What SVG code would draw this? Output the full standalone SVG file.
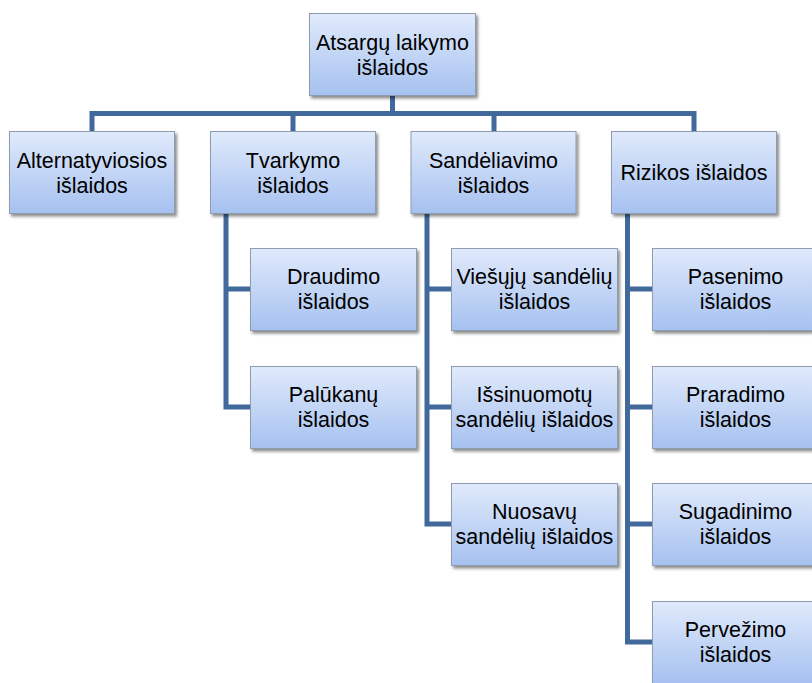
<svg xmlns="http://www.w3.org/2000/svg" width="812" height="683" viewBox="0 0 812 683">
<defs>
<linearGradient id="g" x1="0" y1="0" x2="0" y2="1">
<stop offset="0" stop-color="#e0eafb"/>
<stop offset="1" stop-color="#a6c1f0"/>
</linearGradient>
<filter id="sh" x="-10%" y="-10%" width="125%" height="130%">
<feDropShadow dx="2" dy="2.5" stdDeviation="1.8" flood-color="#000" flood-opacity="0.45"/>
</filter>
</defs>
<style>
.box{fill:url(#g);stroke:#8e9cb0;stroke-width:1;filter:url(#sh)}
.t{font-family:"Liberation Sans",Arial,sans-serif;font-size:21.5px;fill:#000;text-anchor:middle}
.c{fill:none;stroke:#41699b;stroke-width:5;stroke-linejoin:miter;stroke-linecap:butt}
</style>
<rect width="812" height="683" fill="#fff"/>
<g id="connectors">
<path class="c" d="M392.5 96 V113.5"/>
<path class="c" d="M92 131 V113.5 H694 V131"/>
<path class="c" d="M293 113.5 V131"/>
<path class="c" d="M494 113.5 V131"/>
<path class="c" d="M226 213 V407 H250"/>
<path class="c" d="M226 289 H250"/>
<path class="c" d="M427 213 V524 H451"/>
<path class="c" d="M427 289 H451"/>
<path class="c" d="M427 407 H451"/>
<path class="c" d="M627.5 213 V642 H652"/>
<path class="c" d="M627.5 289 H652"/>
<path class="c" d="M627.5 407 H652"/>
<path class="c" d="M627.5 524 H652"/>
</g>
<g id="root"><rect class="box" x="309.5" y="13.5" width="166" height="82"/><text class="t" x="392.5" y="50">Atsargų laikymo</text><text class="t" x="392.5" y="75">išlaidos</text></g>
<g id="alt"><rect class="box" x="9.5" y="131.5" width="165" height="82"/><text class="t" x="92" y="168">Alternatyviosios</text><text class="t" x="92" y="193">išlaidos</text></g>
<g id="tvark"><rect class="box" x="210.5" y="131.5" width="165" height="82"/><text class="t" x="293" y="168">Tvarkymo</text><text class="t" x="293" y="193">išlaidos</text></g>
<g id="sand"><rect class="box" x="411" y="131.5" width="165" height="82"/><text class="t" x="493.5" y="168">Sandėliavimo</text><text class="t" x="493.5" y="193">išlaidos</text></g>
<g id="riz"><rect class="box" x="611.5" y="131.5" width="165" height="82"/><text class="t" x="694" y="180">Rizikos išlaidos</text></g>
<g id="draud"><rect class="box" x="250.5" y="248.5" width="166" height="82"/><text class="t" x="333.5" y="284">Draudimo</text><text class="t" x="333.5" y="309">išlaidos</text></g>
<g id="paluk"><rect class="box" x="250.5" y="366.5" width="166" height="82"/><text class="t" x="333.5" y="402">Palūkanų</text><text class="t" x="333.5" y="427">išlaidos</text></g>
<g id="viesuju"><rect class="box" x="451.5" y="248.5" width="166" height="82"/><text class="t" x="534.5" y="284">Viešųjų sandėlių</text><text class="t" x="534.5" y="309">išlaidos</text></g>
<g id="issinuom"><rect class="box" x="451.5" y="366.5" width="166" height="82"/><text class="t" x="534.5" y="402">Išsinuomotų</text><text class="t" x="534.5" y="427">sandėlių išlaidos</text></g>
<g id="nuosavu"><rect class="box" x="451.5" y="483.5" width="166" height="82"/><text class="t" x="534.5" y="519">Nuosavų</text><text class="t" x="534.5" y="544">sandėlių išlaidos</text></g>
<g id="pasen"><rect class="box" x="652.5" y="248.5" width="166" height="82"/><text class="t" x="735.5" y="284">Pasenimo</text><text class="t" x="735.5" y="309">išlaidos</text></g>
<g id="prarad"><rect class="box" x="652.5" y="366.5" width="166" height="82"/><text class="t" x="735.5" y="402">Praradimo</text><text class="t" x="735.5" y="427">išlaidos</text></g>
<g id="sugad"><rect class="box" x="652.5" y="483.5" width="166" height="82"/><text class="t" x="735.5" y="519">Sugadinimo</text><text class="t" x="735.5" y="544">išlaidos</text></g>
<g id="perv"><rect class="box" x="652.5" y="601.5" width="166" height="82"/><text class="t" x="735.5" y="637">Pervežimo</text><text class="t" x="735.5" y="662">išlaidos</text></g>
</svg>
